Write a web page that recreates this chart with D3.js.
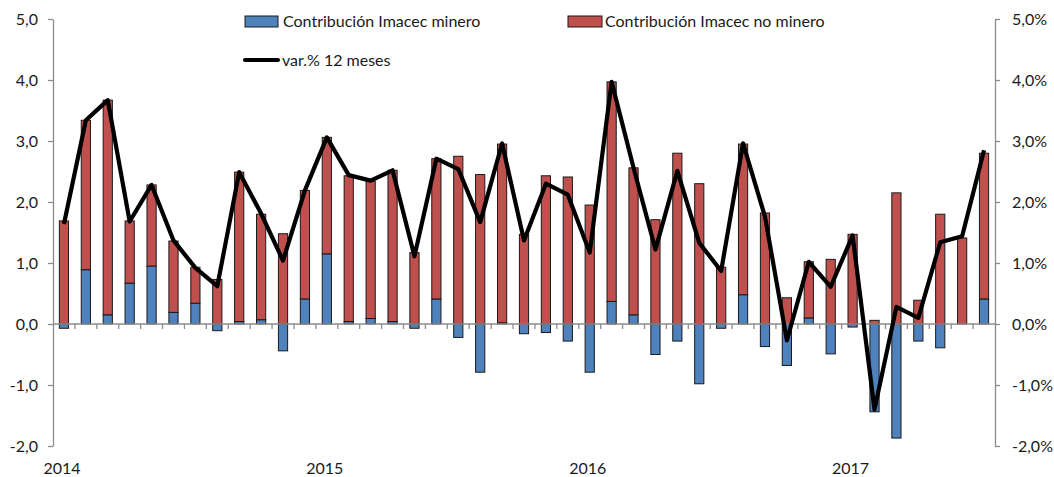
<!DOCTYPE html>
<html>
<head>
<meta charset="utf-8">
<script src="https://cdn.jsdelivr.net/npm/d3@7"></script>
<style>
  body { margin: 0; background: #fff; }
  text { font-family: Lato, "Open Sans", sans-serif; fill: #1a1a1a; }
</style>
</head>
<body>
<svg id="chart" width="1054" height="477"></svg>
<script>
// months Jan 2014 .. Jul 2017
var months = d3.range(43);
var yearLabels = [{i: 0, t: "2014"}, {i: 12, t: "2015"}, {i: 24, t: "2016"}, {i: 36, t: "2017"}];

var minero = [-0.07, 0.89, 0.15, 0.67, 0.95, 0.19, 0.34, -0.11, 0.04, 0.07, -0.44, 0.41,
              1.15, 0.04, 0.09, 0.04, -0.07, 0.41, -0.22, -0.79, 0.02, -0.16, -0.14, -0.28,
              -0.79, 0.37, 0.15, -0.50, -0.28, -0.98, -0.07, 0.48, -0.37, -0.68, 0.10, -0.49,
              -0.05, -1.44, -1.87, -0.28, -0.39, 0.00, 0.41];

var noMinero = [1.69, 2.45, 3.52, 1.02, 1.33, 1.17, 0.59, 0.73, 2.45, 1.73, 1.48, 1.78,
                1.91, 2.39, 2.25, 2.48, 1.17, 2.30, 2.75, 2.45, 2.93, 1.47, 2.43, 2.41,
                1.95, 3.60, 2.41, 1.71, 2.80, 2.30, 0.93, 2.47, 1.82, 0.43, 0.92, 1.06,
                1.47, 0.06, 2.15, 0.39, 1.80, 1.41, 2.39];

var var12 = [1.64, 3.34, 3.67, 1.68, 2.28, 1.37, 0.92, 0.62, 2.49, 1.81, 1.04, 2.19,
             3.06, 2.44, 2.35, 2.52, 1.11, 2.71, 2.54, 1.67, 2.96, 1.37, 2.30, 2.12,
             1.17, 3.97, 2.56, 1.22, 2.51, 1.33, 0.87, 2.96, 1.76, -0.27, 1.02, 0.61,
             1.45, -1.40, 0.28, 0.10, 1.34, 1.44, 2.85];

var leftTicks = [-2, -1, 0, 1, 2, 3, 4, 5];

var svg = d3.select("#chart");
var pLeft = 53, pRight = 995, pTop = 19, pBottom = 446;
var fs = 16;

var x = d3.scaleBand().domain(months).range([pLeft, pRight]).paddingInner(0.58).paddingOuter(0.29);
var y = d3.scaleLinear().domain([-2, 5]).range([pBottom, pTop]);

var comma = function(v) { return d3.format(".1f")(v).replace(".", ",").replace("−", "-"); };

// left axis
var axL = svg.append("g")
    .attr("transform", "translate(" + pLeft + ",0)")
    .call(d3.axisLeft(y).tickValues(leftTicks).tickSize(5).tickSizeOuter(0).tickFormat(comma));
// right axis
var axR = svg.append("g")
    .attr("transform", "translate(" + pRight + ",0)")
    .call(d3.axisRight(y).tickValues(leftTicks).tickSize(5).tickSizeOuter(0).tickFormat(function(v) { return comma(v) + "%"; }));
[axL, axR].forEach(function(a) {
    a.selectAll("path, line").attr("stroke", "#8c8c8c").attr("stroke-width", 1.3);
    a.selectAll("text").attr("font-size", fs).attr("fill", "#1a1a1a")
        .style("font-family", "Lato, 'Open Sans', sans-serif");
});
axL.selectAll("text").attr("x", -15);
axR.selectAll("text").attr("x", 17);

// stacked bars
var rows = months.map(function(i) { return {i: i, minero: minero[i], noMinero: noMinero[i]}; });
var series = d3.stack().keys(["minero", "noMinero"]).offset(d3.stackOffsetDiverging)(rows);
var colors = {minero: "#4f81bd", noMinero: "#c0504d"};

svg.append("g").selectAll("g")
    .data(series)
    .enter().append("g")
    .attr("fill", function(s) { return colors[s.key]; })
    .selectAll("rect")
    .data(function(s) { return s; })
    .enter().append("rect")
    .attr("x", function(d) { return x(d.data.i); })
    .attr("width", x.bandwidth())
    .attr("y", function(d) { return y(Math.max(d[0], d[1])); })
    .attr("height", function(d) { return Math.abs(y(d[0]) - y(d[1])); })
    .attr("stroke", "#1a1a1a")
    .attr("stroke-width", 1);

// zero line with category ticks
var zero = svg.append("g").attr("stroke", "#8c8c8c").attr("stroke-width", 1.3);
zero.append("line").attr("x1", pLeft).attr("x2", pRight).attr("y1", y(0)).attr("y2", y(0));
zero.selectAll(".ct")
    .data(months.slice(1))
    .enter().append("line")
    .attr("x1", function(i) { return x(i) - x.step() * x.paddingInner() / 2; })
    .attr("x2", function(i) { return x(i) - x.step() * x.paddingInner() / 2; })
    .attr("y1", y(0)).attr("y2", y(0) + 5);

// line var 12 months
var line = d3.line()
    .x(function(d, i) { return x(i) + x.bandwidth() / 2; })
    .y(function(d) { return y(d); });
svg.append("path")
    .datum(var12)
    .attr("d", line)
    .attr("fill", "none")
    .attr("stroke", "#000")
    .attr("stroke-width", 4.2)
    .attr("stroke-linejoin", "round");

// year labels
svg.append("g").selectAll("text")
    .data(yearLabels)
    .enter().append("text")
    .attr("x", function(d) { return x(d.i) + x.bandwidth() / 2 - 2; })
    .attr("y", 474)
    .attr("text-anchor", "middle")
    .attr("font-size", fs)
    .text(function(d) { return d.t; });

// legend
var lg = svg.append("g");
lg.append("rect").attr("x", 245).attr("y", 16).attr("width", 33).attr("height", 11)
    .attr("fill", colors.minero).attr("stroke", "#1a1a1a");
lg.append("text").attr("x", 283).attr("y", 27).attr("font-size", fs).text("Contribución Imacec minero");
lg.append("rect").attr("x", 568).attr("y", 16).attr("width", 34).attr("height", 11)
    .attr("fill", colors.noMinero).attr("stroke", "#1a1a1a");
lg.append("text").attr("x", 605).attr("y", 27).attr("font-size", fs).text("Contribución Imacec no minero");
lg.append("line").attr("x1", 245).attr("x2", 278).attr("y1", 60).attr("y2", 60)
    .attr("stroke", "#000").attr("stroke-width", 4).attr("stroke-linecap", "round");
lg.append("text").attr("x", 282).attr("y", 66).attr("font-size", fs).text("var.% 12 meses");
</script>
</body>
</html>
